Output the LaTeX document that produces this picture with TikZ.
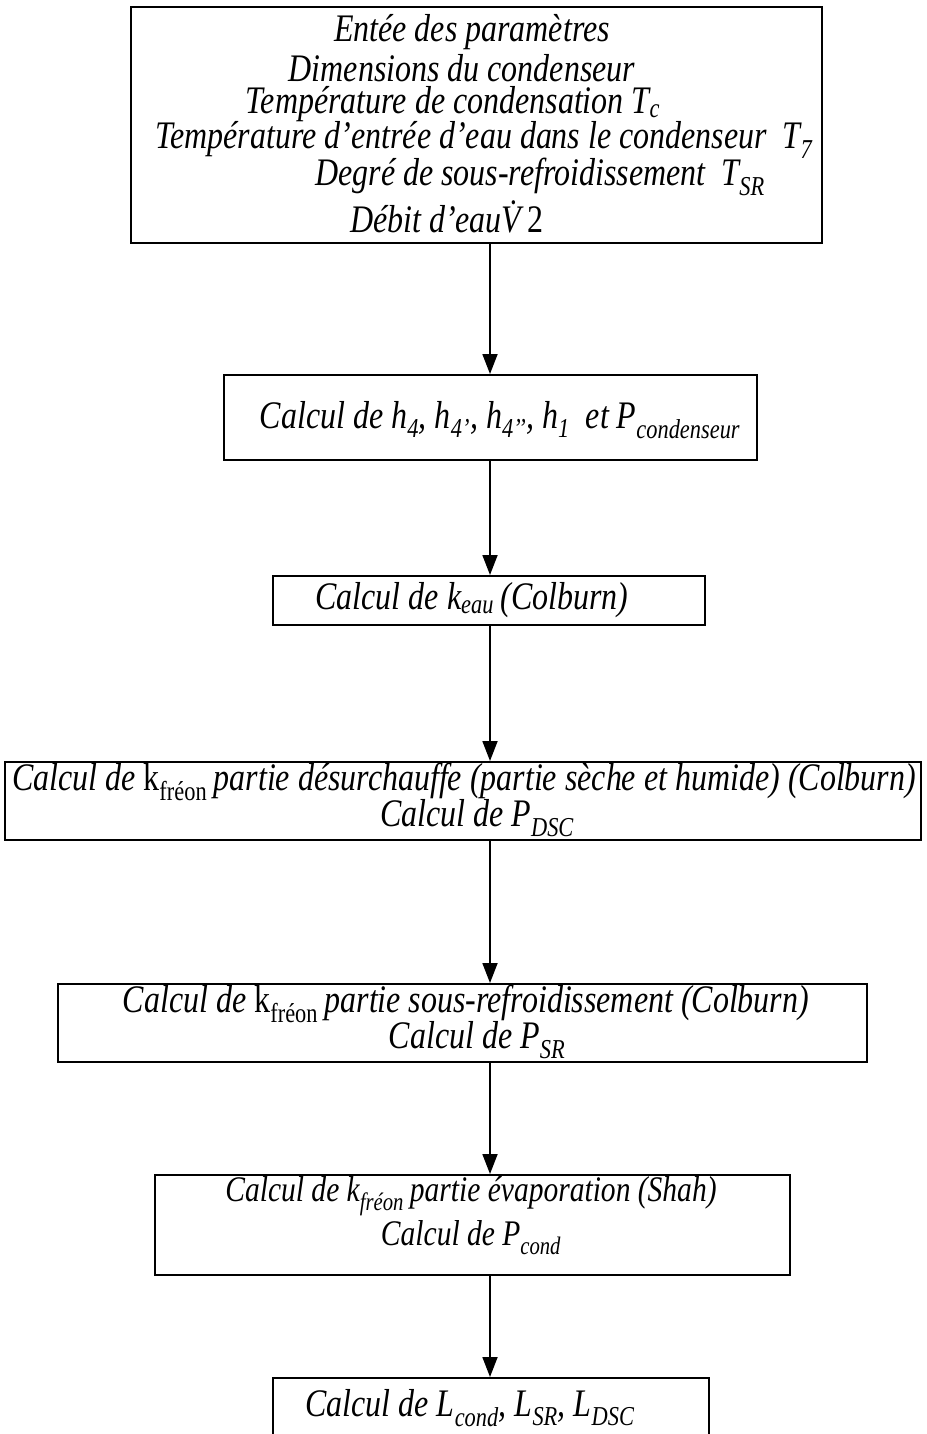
\documentclass[tikz,border=0pt]{standalone}
\usepackage{fontspec}
\setmainfont{Liberation Serif}[FakeStretch=0.82]
\usetikzlibrary{arrows.meta}
\begin{document}
\begin{tikzpicture}[x=1pt,y=-1pt,
  box/.style={draw, line width=2pt, inner sep=0pt},
  txt/.style={font=\fontsize{39}{42}\selectfont\itshape, inner sep=0pt, anchor=center},
  small/.style={font=\fontsize{36}{40}\selectfont\itshape},
  flow/.style={line width=1.8pt, -{Triangle[length=20pt,width=15pt]}}]
\useasboundingbox (0,0) rectangle (926,1434);
\clip (0,0) rectangle (926,1434);

% frames of the flowchart steps
\node[box, minimum width=691pt, minimum height=236pt] (b1) at (476.5,125) {};
\node[box, minimum width=533pt, minimum height=85pt]  (b2) at (490.5,417.5) {};
\node[box, minimum width=432pt, minimum height=49pt]  (b3) at (489,600.5) {};
\node[box, minimum width=916pt, minimum height=78pt]  (b4) at (463,801) {};
\node[box, minimum width=809pt, minimum height=78pt]  (b5) at (462.5,1023) {};
\node[box, minimum width=635pt, minimum height=100pt] (b6) at (472.5,1225) {};
\node[box, minimum width=436pt, minimum height=92pt]  (b7) at (491,1424) {};

% input parameters
\node[txt] (t11) at (472,32)  {Entée des paramètres};
\node[txt] (t12) at (462,68)  {Dimensions du condenseur};
\node[txt] (t13) at (453,104) {Température de condensation T\textsubscript{c}};
\node[txt] (t14) at (484,140) {Température d’entrée d’eau dans le condenseur\ \ T\textsubscript{7}};
\node[txt] (t15) at (540,177) {Degré de sous-refroidissement\ \ T\textsubscript{SR}};
\node[txt] (t16) at (447,217) {Débit d’eau\.{V}\,{\upshape 2}};

% computation steps
\node[txt] (t2) at (500,420) {Calcul de h\textsubscript{4}, h\textsubscript{4’}, h\textsubscript{4’’}, h\textsubscript{1}\ \ et P\textsubscript{condenseur}};
\node[txt] (t3) at (472,600) {Calcul de k\textsubscript{eau}\,(Colburn)};
\node[txt] (t41) at (464,782) {Calcul de {\upshape k\textsubscript{fréon}}\,partie désurchauffe (partie sèche et humide) (Colburn)};
\node[txt] (t42) at (477,818) {Calcul de P\textsubscript{DSC}};
\node[txt] (t51) at (466,1004) {Calcul de {\upshape k\textsubscript{fréon}}\,partie sous-refroidissement (Colburn)};
\node[txt] (t52) at (477,1040) {Calcul de P\textsubscript{SR}};
\node[txt, small] (t61) at (471,1196) {Calcul de k\textsubscript{fréon}\,partie évaporation (Shah)};
\node[txt, small] (t62) at (471,1238) {Calcul de P\textsubscript{cond}};
\node[txt] (t7) at (470,1408) {Calcul de L\textsubscript{cond}, L\textsubscript{SR}, L\textsubscript{DSC}};

% vertical flow line
\coordinate (ax) at (490,0);
\draw[flow] (ax |- b1.south) -- (ax |- b2.north);
\draw[flow] (ax |- b2.south) -- (ax |- b3.north);
\draw[flow] (ax |- b3.south) -- (ax |- b4.north);
\draw[flow] (ax |- b4.south) -- (ax |- b5.north);
\draw[flow] (ax |- b5.south) -- (ax |- b6.north);
\draw[flow] (ax |- b6.south) -- (ax |- b7.north);
\end{tikzpicture}
\end{document}
